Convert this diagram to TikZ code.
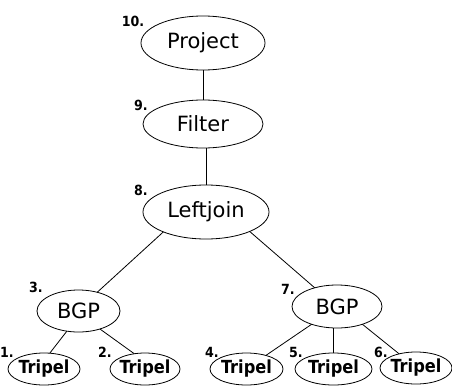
\documentclass[tikz,border=0pt]{standalone}
\usepackage{fontspec}
\setmainfont{DejaVu Sans}
\newfontfamily\condfont{DejaVu Sans Condensed}
\usetikzlibrary{shapes.geometric}

\tikzset{
  op/.style={ellipse, draw, line width=0.8pt, inner sep=0pt, outer sep=0pt,
             font=\fontsize{21}{21}\selectfont},
  leaf/.style={ellipse, draw, line width=0.8pt, inner sep=0pt, outer sep=0pt,
               minimum width=70, minimum height=32,
               font=\condfont\bfseries\fontsize{18}{18}\selectfont},
  num/.style={inner sep=0pt, font=\condfont\bfseries\fontsize{14}{14}\selectfont},
  edge/.style={line width=0.8pt}
}

\begin{document}
\begin{tikzpicture}[x=1pt,y=-1pt]
\useasboundingbox (0,0) rectangle (452,388);

% operator nodes
\node[op, minimum width=124, minimum height=54] (proj) at (203,43)  {Project};
\node[op, minimum width=120, minimum height=48] (flt)  at (203,124) {Filter};
\node[op, minimum width=126, minimum height=54] (lj)   at (206,212) {Leftjoin};
\node[op, minimum width=83,  minimum height=42] (bgpL) at (78.5,311) {BGP};
\node[op, minimum width=90,  minimum height=43] (bgpR) at (337,306.5) {BGP};

% triple patterns
\node[leaf, minimum width=72] (t1) at (44,369)    {\makebox[0pt]{Tripel}};
\node[leaf, minimum width=70] (t2) at (145,369)   {\makebox[0pt]{Tripel}};
\node[leaf, minimum width=73] (t4) at (246.5,369) {\makebox[0pt]{Tripel}};
\node[leaf, minimum width=77] (t5) at (333.5,369) {\makebox[0pt]{Tripel}};
\node[leaf, minimum width=72] (t6) at (416,368)   {\makebox[0pt]{Tripel}};

% evaluation order numbers
\node[num] (n10) at (133,21)  {10.};
\node[num] (n9)  at (141,105) {9.};
\node[num] (n8)  at (141,190) {8.};
\node[num] (n3)  at (36,287)  {3.};
\node[num] (n7)  at (288,289) {7.};
\node[num] (n1)  at (7,352)   {1.};
\node[num] (n2)  at (105,352) {2.};
\node[num] (n4)  at (212,352) {4.};
\node[num] (n5)  at (296,352) {5.};
\node[num] (n6)  at (381,352) {6.};

% tree edges
\draw[edge] (proj.south) -- (flt.north);
\draw[edge] (lj.north) -- (lj.north |- flt.south);
\draw[edge] (lj.205) -- (bgpL.45);
\draw[edge] (lj.336) -- (bgpR.140);
\draw[edge] (bgpL.240) -- (t1.70);
\draw[edge] (bgpL.320) -- (t2.125);
\draw[edge] (bgpR.215) -- (t4.35);
\draw[edge] (t5.north) -- (t5.north |- bgpR.south);
\draw[edge] (bgpR.325) -- (t6.140);
\end{tikzpicture}
\end{document}
